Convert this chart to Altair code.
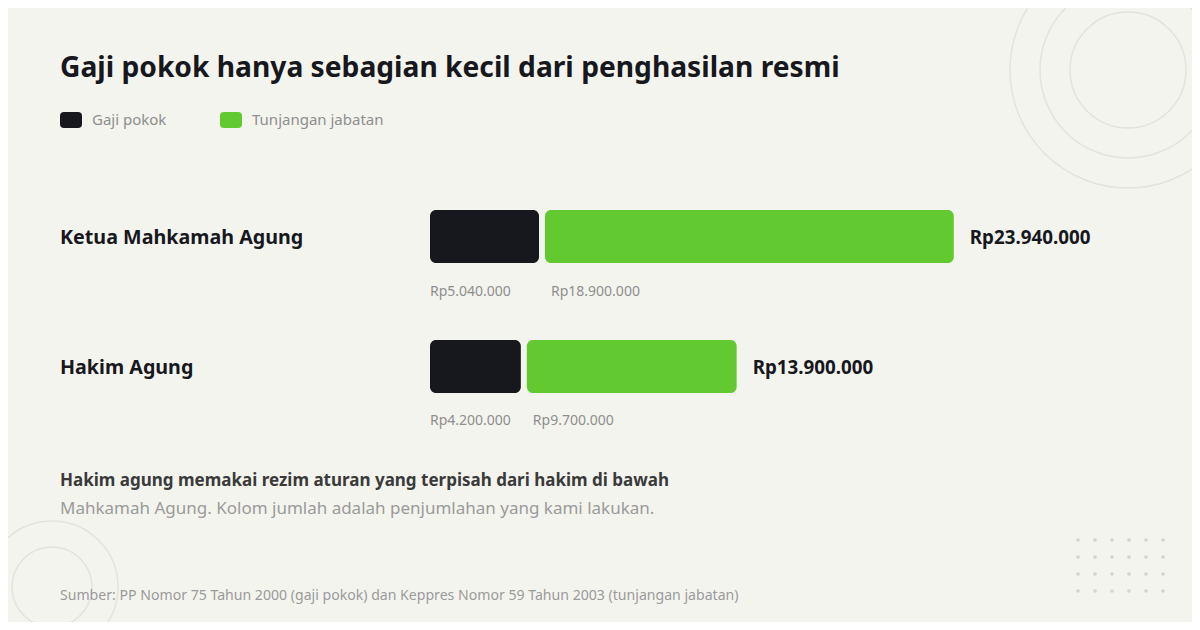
import altair as alt
import pandas as pd

# ---- data ----
jabatan = ["Ketua Mahkamah Agung", "Hakim Agung"]
gaji_pokok = [5040000, 4200000]
tunjangan_jabatan = [18900000, 9700000]
seri = ["Gaji pokok", "Tunjangan jabatan"]
warna = ["#17181d", "#62c930"]

judul = "Gaji pokok hanya sebagian kecil dari penghasilan resmi"
catatan_1 = "Hakim agung memakai rezim aturan yang terpisah dari hakim di bawah"
catatan_2 = "Mahkamah Agung. Kolom jumlah adalah penjumlahan yang kami lakukan."
sumber = "Sumber: PP Nomor 75 Tahun 2000 (gaji pokok) dan Keppres Nomor 59 Tahun 2003 (tunjangan jabatan)"

dot_cols = [0, 1, 2, 3, 4, 5]
dot_rows = [0, 1, 2, 3]


def rp(v):
    return "Rp" + f"{v:,}".replace(",", ".")


df = pd.DataFrame({"jabatan": jabatan, "gaji": gaji_pokok, "tunj": tunjangan_jabatan})
df["total"] = df["gaji"] + df["tunj"]
df["seri_g"] = seri[0]
df["seri_t"] = seri[1]
df["lbl_g"] = [rp(v) for v in df["gaji"]]
df["lbl_t"] = [rp(v) for v in df["tunj"]]
df["lbl_total"] = [rp(v) for v in df["total"]]

dots = pd.DataFrame([{"c": c, "r": r} for c in dot_cols for r in dot_rows])
one = pd.DataFrame({"k": [0]})

FONT = "Noto Sans"
BG = "#f4f4ef"

xs = alt.Scale(domain=[0, 24000000], range=[422, 941.1])
ys = alt.Scale(type="band", domain=jabatan, range=[202, 385], paddingInner=0.5923, paddingOuter=0)
cs = alt.Scale(domain=seri, range=warna)

X0 = alt.X("gaji:Q", scale=xs, axis=None)
Y = alt.Y("jabatan:N", scale=ys, axis=None, sort=jabatan)
YT = alt.Y("jabatan:N", scale=ys, axis=None, sort=jabatan, bandPosition=0.5)

rounded = ("M-0.64,-0.727 L0.64,-0.727 Q1,-0.727 1,-0.367 L1,0.367 Q1,0.727 0.64,0.727 "
           "L-0.64,0.727 Q-1,0.727 -1,0.367 L-1,-0.367 Q-1,-0.727 -0.64,-0.727 Z")

legend = alt.Legend(
    title=None, orient="none", legendX=52, legendY=101, direction="horizontal",
    symbolType=rounded, symbolSize=484, symbolStrokeWidth=0, symbolOpacity=1,
    labelFont=FONT, labelFontSize=15, labelColor="#8e8e8e", labelOffset=10,
    columnPadding=53, padding=0,
)

base = alt.Chart(df)

bar_g = base.mark_bar(cornerRadius=6).encode(
    x=alt.X("nol:Q", scale=xs, axis=None),
    x2="gaji:Q",
    y=Y,
    color=alt.Color("seri_g:N", scale=cs, legend=legend),
).transform_calculate(nol="0")

bar_t = base.mark_bar(cornerRadius=6, xOffset=6, x2Offset=6).encode(
    x=X0,
    x2="total:Q",
    y=Y,
    color=alt.Color("seri_t:N", scale=cs, legend=legend),
)

lbl_g = base.mark_text(align="left", baseline="middle", dy=55, font=FONT,
                       fontSize=14, color="#8e8e8e").encode(
    x=alt.X("nol:Q", scale=xs, axis=None), y=YT, text="lbl_g:N",
).transform_calculate(nol="0")

lbl_t = base.mark_text(align="left", baseline="middle", dy=55, dx=12, font=FONT,
                       fontSize=14, color="#8e8e8e").encode(
    x=X0, y=YT, text="lbl_t:N",
)

lbl_total = base.mark_text(align="left", baseline="middle", dx=22, dy=1.5, font=FONT,
                           fontSize=18.8, fontWeight="bold", color="#17181d").encode(
    x=alt.X("total:Q", scale=xs, axis=None), y=YT, text="lbl_total:N",
)

lbl_row = base.mark_text(align="left", baseline="middle", dy=1.5, font=FONT,
                         fontSize=19.7, fontWeight="bold", color="#17181d").encode(
    x=alt.value(52), y=YT, text="jabatan:N",
)

dec = alt.Chart(one)


def ring(cx, cy, r):
    return dec.mark_point(shape="circle", filled=False, stroke="#e3e3dd",
                          strokeWidth=1.5, size=(2 * r) ** 2, opacity=1).encode(
        x=alt.value(cx), y=alt.value(cy))


rings = [ring(1120, 62, 58), ring(1120, 62, 88), ring(1120, 62, 118),
         ring(44, 579, 40), ring(44, 579, 66)]

dot_layer = alt.Chart(dots).mark_circle(size=13, color="#d3d3cd", opacity=1).encode(
    x=alt.X("c:Q", scale=alt.Scale(domain=[0, 5], range=[1070, 1155]), axis=None),
    y=alt.Y("r:Q", scale=alt.Scale(domain=[0, 3], range=[532, 583]), axis=None),
)


def txt(s, x, y, size, color, weight="normal"):
    return dec.mark_text(text=s, align="left", baseline="alphabetic", font=FONT,
                         fontSize=size, fontWeight=weight, color=color).encode(
        x=alt.value(x), y=alt.value(y))


texts = [
    txt(judul, 52, 69, 28.2, "#17181d", "bold"),
    txt(catatan_1, 52, 478, 17, "#3a3a3a", "bold"),
    txt(catatan_2, 52, 506, 17, "#9a9a9a"),
    txt(sumber, 52, 592, 14.1, "#9a9a9a"),
]

chart = alt.layer(
    *rings, dot_layer, bar_g, bar_t, lbl_g, lbl_t, lbl_total, lbl_row, *texts
).resolve_scale(x="independent", y="independent").properties(
    width=1184, height=614, padding=0, autosize="none", background=BG,
).configure_view(stroke=None)

chart.save("out.html", embed_options={"renderer": "svg", "actions": False})
